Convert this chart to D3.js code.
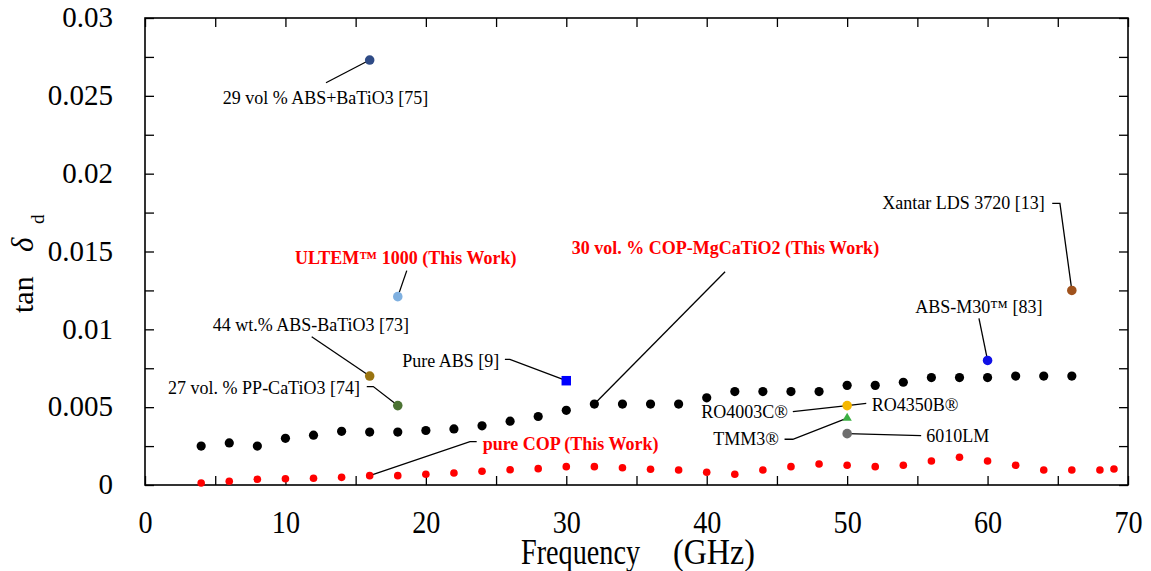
<!DOCTYPE html>
<html>
<head>
<meta charset="utf-8">
<script src="https://cdn.jsdelivr.net/npm/d3@7"></script>
<style>
  body { margin: 0; background: #fff; }
  svg { display: block; }
  svg text { font-family: "Liberation Serif", "Times New Roman", Times, "DejaVu Serif", serif !important; }
</style>
</head>
<body>
<svg id="chart" width="1151" height="571"></svg>
<script>
// 30 vol.% COP-MgCaTiO2 composite: loss tangent vs frequency (GHz)
const compositeFreq = [4, 6, 8, 10, 12, 14, 16, 18, 20, 22, 24, 26, 28, 30, 32, 34,
                       36, 38, 40, 42, 44, 46, 48, 50, 52, 54, 56, 58, 60, 62, 64, 66];
const compositeLoss = [0.0025, 0.0027, 0.0025, 0.0030, 0.0032, 0.00345, 0.0034, 0.0034,
                       0.0035, 0.0036, 0.0038, 0.0041, 0.0044, 0.0048, 0.0052, 0.0052,
                       0.0052, 0.0052, 0.0056, 0.0060, 0.0060, 0.0060, 0.0060, 0.0064,
                       0.0064, 0.0066, 0.0069, 0.0069, 0.0069, 0.0070, 0.0070, 0.0070];

// Pure COP: loss tangent vs frequency (GHz)
const copFreq = [4, 6, 8, 10, 12, 14, 16, 18, 20, 22, 24, 26, 28, 30, 32, 34, 36,
                 38, 40, 42, 44, 46, 48, 50, 52, 54, 56, 58, 60, 62, 64, 66, 68, 69];
const copLoss = [0.00013, 0.00024, 0.00037, 0.00040, 0.00043, 0.00049, 0.00060, 0.00060,
                 0.00069, 0.00077, 0.00088, 0.00098, 0.00105, 0.00118, 0.00118, 0.00111,
                 0.00101, 0.00096, 0.00082, 0.00069, 0.00096, 0.00118, 0.00135, 0.00127,
                 0.00118, 0.00127, 0.00154, 0.00178, 0.00154, 0.00127, 0.00096, 0.00096,
                 0.00096, 0.00103];

// Reference materials (single-frequency values)
const refKeys  = ["abs29", "ultem", "abs44", "pp27", "pureAbs", "xantar", "absM30", "ro", "tmm3", "lm6010"];
const refFreq  = [16, 18, 16, 18, 30, 66, 60, 50, 50, 50];
const refLoss  = [0.0273, 0.0121, 0.0070, 0.0051, 0.0067, 0.0125, 0.0080, 0.0051, 0.0043, 0.0033];
const refShape = ["circle", "circle", "circle", "circle", "square", "circle", "circle", "circle", "triangle", "circle"];

// Axis ticks
const xLabelTicks = [0, 10, 20, 30, 40, 50, 60, 70];
const yLabelTicks = [0, 0.005, 0.01, 0.015, 0.02, 0.025, 0.03];

// Colours and label layout (pixel offsets from the marker)
const refColor = {
  abs29: "#2f4b86", ultem: "#7fb0e0", abs44: "#9a7410", pp27: "#4c7333",
  pureAbs: "#0000ff", xantar: "#a0521c", absM30: "#1010e6", ro: "#f5b700",
  tmm3: "#3cb043", lm6010: "#6e6e6e"
};

// Each label: text, anchor, offset, leader polyline (offsets, ending at the marker)
const labels = [
  { key: "abs29", text: "29 vol % ABS+BaTiO3 [75]", anchor: "start", dx: -147, dy: 43.7,
    leader: [[-43.7, 22.7]] },
  { key: "ultem", text: "ULTEM™ 1000 (This Work)", anchor: "middle", dx: 8, dy: -32.6, red: true,
    leader: [[9, -26]] },
  { key: "abs44", text: "44 wt.% ABS-BaTiO3 [73]", anchor: "start", dx: -157, dy: -45.3,
    leader: [[-58, -39.3]] },
  { key: "pp27", text: "27 vol. % PP-CaTiO3 [74]", anchor: "end", dx: -37.8, dy: -11.3,
    leader: [[-31, -19], [-24.5, -19]] },
  { key: "pureAbs", text: "Pure ABS [9]", anchor: "end", dx: -67, dy: -14,
    leader: [[-61.4, -21.4], [-56.4, -21.4]] },
  { key: "xantar", text: "Xantar LDS 3720 [13]", anchor: "end", dx: -27, dy: -81,
    leader: [[-19.6, -87], [-11.9, -87]] },
  { key: "absM30", text: "ABS-M30™ [83]", anchor: "middle", dx: -8.7, dy: -47.8,
    leader: [[-8.6, -42.2]] },
  { key: "ro", text: "RO4003C®", anchor: "end", dx: -59.3, dy: 12.7,
    leader: [[-54.3, 6.1]] },
  { key: "ro", text: "RO4350B®", anchor: "start", dx: 24.7, dy: 5.4,
    leader: [[19.1, -2.3]] },
  { key: "tmm3", text: "TMM3®", anchor: "end", dx: -68.3, dy: 26.9,
    leader: [[-62.6, 21.2], [-54.3, 21.2]] },
  { key: "lm6010", text: "6010LM", anchor: "start", dx: 79, dy: 8.1,
    leader: [[74, 2]] }
];

// Labels for the two measured series, tied to one of their points
const seriesLabels = [
  { text: "30 vol. % COP-MgCaTiO2 (This Work)", series: "composite", freq: 32,
    anchor: "start", dx: -22.6, dy: -150, leader: [[130.7, -132.3]] },
  { text: "pure COP (This Work)", series: "cop", freq: 16,
    anchor: "start", dx: 113, dy: -25.7, leader: [[107, -34], [100.3, -34]] }
];

const svg = d3.select("#chart");
const plotLeft = 145, plotRight = 1128, plotTop = 18, plotBottom = 485;
const serif = "'Liberation Serif', 'Times New Roman', Times, 'DejaVu Serif', serif";

const x = d3.scaleLinear().domain([0, 70]).range([plotLeft, plotRight]);
const y = d3.scaleLinear().domain([0, 0.03]).range([plotBottom, plotTop]);

// Inward ticks on all four sides
const xAll = d3.range(0, 71, 5);
const yAll = d3.range(0, 13).map(i => i * 0.0025);
const tickLen = 9;

function strip(g) {
  g.select(".domain").remove();
  g.selectAll("line").attr("stroke", "#000").attr("stroke-width", 1.3);
}

svg.append("g").attr("transform", `translate(0,${plotBottom})`)
  .call(d3.axisBottom(x).tickValues(xAll).tickSize(-tickLen).tickFormat("")).call(strip);
svg.append("g").attr("transform", `translate(0,${plotTop})`)
  .call(d3.axisTop(x).tickValues(xAll).tickSize(-tickLen).tickFormat("")).call(strip);
svg.append("g").attr("transform", `translate(${plotLeft},0)`)
  .call(d3.axisLeft(y).tickValues(yAll).tickSize(-tickLen).tickFormat("")).call(strip);
svg.append("g").attr("transform", `translate(${plotRight},0)`)
  .call(d3.axisRight(y).tickValues(yAll).tickSize(-tickLen).tickFormat("")).call(strip);

// Tick labels
const xAxisLabels = svg.append("g").attr("transform", `translate(0,${plotBottom})`)
  .call(d3.axisBottom(x).tickValues(xLabelTicks).tickSize(0).tickFormat(d3.format("d")));
xAxisLabels.attr("font-family", serif).attr("font-size", 32);
xAxisLabels.select(".domain").remove();
xAxisLabels.selectAll("text")
  .attr("y", 48).attr("dy", 0)
  .attr("transform", "scale(0.88,1)")
  .attr("fill", "#000");

const yAxisLabels = svg.append("g").attr("transform", `translate(${plotLeft},0)`)
  .call(d3.axisLeft(y).tickValues(yLabelTicks).tickSize(0).tickPadding(32)
    .tickFormat(d => String(+d.toFixed(3))));
yAxisLabels.attr("font-family", serif).attr("font-size", 29);
yAxisLabels.select(".domain").remove();
yAxisLabels.selectAll("text").attr("dy", "0.3em").attr("fill", "#000");

// Frame
svg.append("rect")
  .attr("x", plotLeft).attr("y", plotTop)
  .attr("width", plotRight - plotLeft).attr("height", plotBottom - plotTop)
  .attr("fill", "none").attr("stroke", "#000").attr("stroke-width", 1.6);

// Axis titles
const xt = svg.append("g").attr("font-family", serif).attr("font-size", 35);
xt.append("text").attr("x", 521).attr("y", 564)
  .attr("textLength", 119).attr("lengthAdjust", "spacingAndGlyphs").text("Frequency");
xt.append("text").attr("x", 673).attr("y", 564)
  .attr("textLength", 82).attr("lengthAdjust", "spacingAndGlyphs").text("(GHz)");

const yt = svg.append("text").attr("transform", "translate(33,313) rotate(-90)")
  .attr("font-family", serif).attr("font-size", 30);
yt.append("tspan").attr("x", 0).text("tan");
yt.append("tspan").attr("x", 61).attr("font-style", "italic").attr("font-size", 31).text("δ");
yt.append("tspan").attr("x", 89).attr("dy", 11).attr("font-size", 19).text("d");

// Leader lines
const leaders = svg.append("g").attr("fill", "none").attr("stroke", "#000").attr("stroke-width", 1.3);
const refPoint = k => { const i = refKeys.indexOf(k); return [x(refFreq[i]), y(refLoss[i])]; };

labels.forEach(l => {
  const [px, py] = refPoint(l.key);
  const pts = l.leader.map(([a, b]) => [px + a, py + b]).concat([[px, py]]);
  leaders.append("path").attr("d", d3.line()(pts));
});

const seriesPoint = s => {
  if (s.series === "composite") {
    const i = compositeFreq.indexOf(s.freq); return [x(s.freq), y(compositeLoss[i])];
  }
  const i = copFreq.indexOf(s.freq); return [x(s.freq), y(copLoss[i])];
};
seriesLabels.forEach(s => {
  const [px, py] = seriesPoint(s);
  const pts = s.leader.map(([a, b]) => [px + a, py + b]).concat([[px, py]]);
  leaders.append("path").attr("d", d3.line()(pts));
});

// Measured series
svg.append("g").selectAll("circle")
  .data(d3.zip(compositeFreq, compositeLoss)).join("circle")
  .attr("cx", d => x(d[0])).attr("cy", d => y(d[1])).attr("r", 4.6).attr("fill", "#000");

svg.append("g").selectAll("circle")
  .data(d3.zip(copFreq, copLoss)).join("circle")
  .attr("cx", d => x(d[0])).attr("cy", d => y(d[1])).attr("r", 3.8).attr("fill", "#ff0000");

// Reference markers
const refData = refKeys.map((k, i) => ({ k, f: refFreq[i], v: refLoss[i], s: refShape[i] }));
svg.append("g").selectAll("path")
  .data(refData).join("path")
  .attr("transform", d => `translate(${x(d.f)},${y(d.v)})`)
  .attr("d", d => d3.symbol()
    .type(d.s === "square" ? d3.symbolSquare : d.s === "triangle" ? d3.symbolTriangle : d3.symbolCircle)
    .size(d.s === "square" ? 90 : d.s === "triangle" ? 38 : 72)())
  .attr("fill", d => refColor[d.k]);

// Label text
const lt = svg.append("g").attr("font-family", serif).attr("font-size", 18);
labels.forEach(l => {
  const [px, py] = refPoint(l.key);
  lt.append("text").attr("x", px + l.dx).attr("y", py + l.dy)
    .attr("text-anchor", l.anchor)
    .attr("fill", l.red ? "#ff0000" : "#000")
    .attr("font-weight", l.red ? "bold" : "normal")
    .text(l.text);
});
seriesLabels.forEach(s => {
  const [px, py] = seriesPoint(s);
  lt.append("text").attr("x", px + s.dx).attr("y", py + s.dy)
    .attr("text-anchor", s.anchor).attr("fill", "#ff0000").attr("font-weight", "bold")
    .text(s.text);
});
</script>
</body>
</html>
